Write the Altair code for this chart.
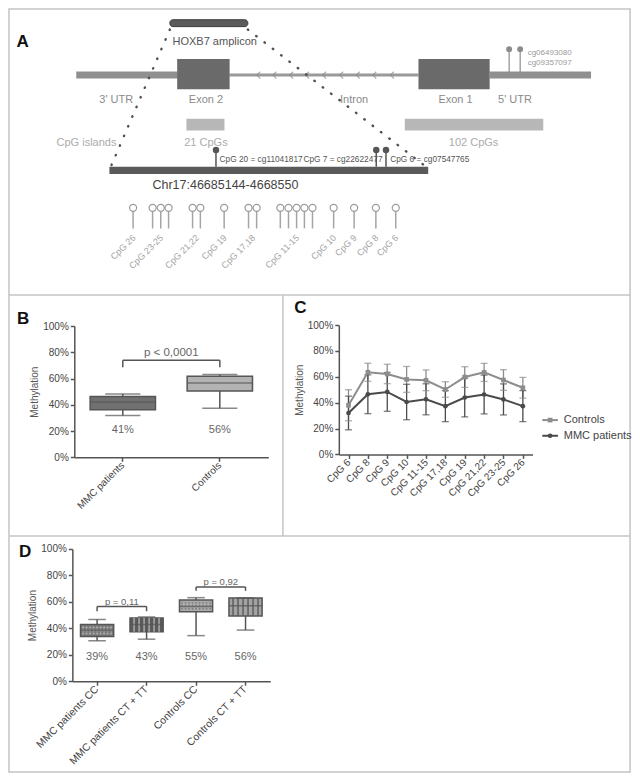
import altair as alt
import pandas as pd

W, H = 624, 766
FONT = "Liberation Sans"
AX = "#555555"


def X(p):
    return p * W / 640.0


def Y(p):
    return p * H / 782.0


# ---------------- Panel A : schematic (figure units) ----------------
gene_seg_x0 = [70, 494]
gene_seg_x1 = [174, 598]
intron_x0 = [227]
intron_x1 = [421]
gene_y = 68.5
chevron_x = [257, 273.5, 290.6, 307, 324.5, 342, 359, 376, 394]
exon_x0 = [173.5, 421]
exon_x1 = [227.3, 494]
exon_top, exon_bottom = 52, 83
feature_labels = ["3' UTR", "Exon 2", "Intron", "Exon 1", "5' UTR"]
feature_x = [111, 203, 355, 459, 520]
feature_label_y = 94
utr_probe_x = [514, 525.3]
utr_probe_names = ["cg06493080", "cg09357097"]
utr_probe_text_y = [46, 56]
island_labels = ["21 CpGs", "102 CpGs"]
island_x0 = [183, 407]
island_x1 = [222, 549]
island_label_x = [203, 477.5]
amplicon_x0, amplicon_x1 = 166, 246
chr_label = "Chr17:46685144-4668550"
chr_x0, chr_x1 = 104, 431
probe_cpg_x = [213.3, 377.7, 387.7]
probe_cpg_text = ["CpG 20 = cg11041817", "CpG 7 = cg22622477", "CpG 6 = cg07547765"]
probe_cpg_text_x = [217, 303, 392]
cpg_site_x = [128.3, 148.3, 156.7, 164.7, 189.3, 197.3, 221.7, 246.7, 255,
              279.3, 287.7, 296, 304, 312.3, 334, 355, 377.3, 397.7]
cpg_group_labels = ["CpG 26", "CpG 23-25", "CpG 21,22", "CpG 19", "CpG 17,18",
                    "CpG 11-15", "CpG 10", "CpG 9", "CpG 8", "CpG 6"]
cpg_group_x = [128.3, 156.7, 193.3, 221.7, 251, 296, 334, 355, 377.3, 397.7]

# ---------------- Panel B ----------------
b_groups = ["MMC patients", "Controls"]
b_min = [31.9, 37.3]
b_q1 = [36.3, 50.5]
b_med = [42.1, 56.7]
b_q3 = [46.3, 61.7]
b_max = [48.3, 63.0]
b_mean_text = ["41%", "56%"]
b_fill = ["#717171", "#b3b3b3"]
b_p_text = "p < 0,0001"

# ---------------- Panel C ----------------
c_sites = ["CpG 6", "CpG 8", "CpG 9", "CpG 10", "CpG 11-15", "CpG 17,18",
           "CpG 19", "CpG 21,22", "CpG 23-25", "CpG 26"]
c_ctrl_mean = [38, 63.5, 62.2, 58, 57.3, 50.2, 59.8, 63.4, 57.5, 51.5]
c_ctrl_sd = [12, 7, 7.5, 10, 8, 6, 8, 7, 8, 8]
c_mmc_mean = [32, 46.5, 48.3, 40.5, 42.6, 37.3, 44, 46.3, 42.5, 37.3]
c_mmc_sd = [13, 15, 15, 13.7, 12, 12, 15, 15, 12, 12]
c_series = ["Controls", "MMC patients"]
c_colors = ["#8d8d8d", "#4a4a4a"]
c_shapes = ["square", "circle"]

# ---------------- Panel D ----------------
d_groups = ["MMC patients CC", "MMC patients CT + TT", "Controls CC", "Controls CT + TT"]
d_min = [30.6, 31.8, 34.5, 38.7]
d_q1 = [33.8, 37.5, 52.6, 49.3]
d_med = [38.5, 43.0, 56.5, 57.0]
d_q3 = [43.0, 47.9, 61.5, 63.0]
d_max = [46.7, 48.6, 63.2, 63.0]
d_mean_text = ["39%", "43%", "55%", "56%"]
d_fill = ["#7b7b7b", "#5a5a5a", "#ababab", "#a3a3a3"]
d_pattern = ["dots", "lines", "dots", "lines"]
d_pattern_color = ["#b4b4b4", "#b0b0b0", "#7e7e7e", "#5a5a5a"]
d_p_text = ["p = 0,11", "p = 0,92"]

# ======================================================================
dxs = alt.Scale(domain=[0, 640], range=[0, W], nice=False, zero=False)
dys = alt.Scale(domain=[0, 782], range=[0, H], nice=False, zero=False)


def dX(f):
    return alt.X(f"{f}:Q", scale=dxs, axis=None)


def dY(f):
    return alt.Y(f"{f}:Q", scale=dys, axis=None)


def texts(df, size, color, align="center", weight="normal", angle=0, baseline="middle"):
    return alt.Chart(df).mark_text(fontSize=size, color=color, align=align, baseline=baseline,
                                   fontWeight=weight, angle=angle, font=FONT).encode(
        x=dX("x"), y=dY("y"), text="t:N")


L = []

# ---- frame ----
L.append(alt.Chart(pd.DataFrame({"x": [1], "x2": [638], "y": [1], "y2": [780]})).mark_rect(
    fillOpacity=0, stroke="#c4c4c4", strokeWidth=1.5).encode(x=dX("x"), x2="x2", y=dY("y"), y2="y2"))
L.append(alt.Chart(pd.DataFrame({"x": [1, 1], "x2": [638, 638], "y": [293, 539]})).mark_rule(
    color="#c4c4c4", strokeWidth=1.5).encode(x=dX("x"), x2="x2", y=dY("y")))
L.append(alt.Chart(pd.DataFrame({"x": [282], "y": [293], "y2": [539]})).mark_rule(
    color="#c4c4c4", strokeWidth=1.5).encode(x=dX("x"), y=dY("y"), y2="y2"))
L.append(texts(pd.DataFrame({"x": [15, 15.5, 300, 17.5], "y": [35, 318, 306, 555],
                             "t": ["A", "B", "C", "D"]}), 17, "#111", weight="bold"))

# ---- Panel A ----
L.append(alt.Chart(pd.DataFrame({"x": gene_seg_x0, "x2": gene_seg_x1, "y": [gene_y] * 2})).mark_rule(
    strokeWidth=7, color="#8f8f8f").encode(x=dX("x"), x2="x2", y=dY("y")))
L.append(alt.Chart(pd.DataFrame({"x": intron_x0, "x2": intron_x1, "y": [gene_y]})).mark_rule(
    strokeWidth=3, color="#9a9a9a").encode(x=dX("x"), x2="x2", y=dY("y")))
L.append(alt.Chart(pd.DataFrame({"x": chevron_x, "y": [gene_y] * len(chevron_x)})).mark_point(
    shape="M0.5,-1L-0.5,0L0.5,1", filled=False, strokeWidth=1.2, color="#8a8a8a", size=45).encode(
    x=dX("x"), y=dY("y")))
L.append(alt.Chart(pd.DataFrame({"x": exon_x0, "x2": exon_x1, "y": [exon_top] * 2, "y2": [exon_bottom] * 2})).mark_rect(
    color="#6a6a6a").encode(x=dX("x"), x2="x2", y=dY("y"), y2="y2"))
L.append(texts(pd.DataFrame({"x": feature_x, "y": [feature_label_y] * 5, "t": feature_labels}), 11, "#8a8a8a"))
# 5' UTR probes
L.append(alt.Chart(pd.DataFrame({"x": utr_probe_x, "y": [42, 42], "y2": [gene_y] * 2})).mark_rule(
    color="#8c8c8c", strokeWidth=1.2).encode(x=dX("x"), y=dY("y"), y2="y2"))
L.append(alt.Chart(pd.DataFrame({"x": utr_probe_x, "y": [42, 42]})).mark_point(
    filled=True, color="#8c8c8c", size=35, opacity=1).encode(x=dX("x"), y=dY("y")))
L.append(texts(pd.DataFrame({"x": [533, 533], "y": utr_probe_text_y, "t": utr_probe_names}), 8, "#9a9a9a", align="left"))
# CpG islands
L.append(texts(pd.DataFrame({"x": [80.5], "y": [138], "t": ["CpG islands"]}), 11, "#ababab"))
L.append(alt.Chart(pd.DataFrame({"x": island_x0, "x2": island_x1, "y": [113, 113], "y2": [125, 125]})).mark_rect(
    color="#b7b7b7").encode(x=dX("x"), x2="x2", y=dY("y"), y2="y2"))
L.append(texts(pd.DataFrame({"x": island_label_x, "y": [138, 138], "t": island_labels}), 11, "#ababab"))
# amplicon
L.append(alt.Chart(pd.DataFrame({"x": [amplicon_x0], "x2": [amplicon_x1], "y": [12], "y2": [19]})).mark_rect(
    color="#5b5b5b", cornerRadius=3, stroke="#3a3a3a", strokeWidth=1).encode(
    x=dX("x"), x2="x2", y=dY("y"), y2="y2"))
L.append(texts(pd.DataFrame({"x": [212], "y": [35], "t": ["HOXB7 amplicon"]}), 11, "#555"))
# dotted projection lines
L.append(alt.Chart(pd.DataFrame({"id": ["l", "l", "r", "r"], "o": [0, 1, 0, 1],
                                 "x": [166, 105, 246, 430], "y": [22, 163, 22, 163]})).mark_line(
    strokeDash=[0.5, 10], strokeCap="round", strokeWidth=2.4, color="#505050").encode(
    x=dX("x"), y=dY("y"), detail="id:N", order="o:Q"))
# chromosome bar
L.append(alt.Chart(pd.DataFrame({"x": [chr_x0], "x2": [chr_x1], "y": [162], "y2": [169.5]})).mark_rect(
    color="#5a5a5a").encode(x=dX("x"), x2="x2", y=dY("y"), y2="y2"))
L.append(texts(pd.DataFrame({"x": [223], "y": [180.5], "t": [chr_label]}), 12.5, "#444"))
L.append(alt.Chart(pd.DataFrame({"x": probe_cpg_x, "y": [145] * 3, "y2": [162] * 3})).mark_rule(
    color="#555", strokeWidth=1.5).encode(x=dX("x"), y=dY("y"), y2="y2"))
L.append(alt.Chart(pd.DataFrame({"x": probe_cpg_x, "y": [145] * 3})).mark_point(
    filled=True, color="#555", size=42, opacity=1).encode(x=dX("x"), y=dY("y")))
L.append(texts(pd.DataFrame({"x": probe_cpg_text_x, "y": [155.5] * 3, "t": probe_cpg_text}), 8.3, "#555", align="left"))
# CpG site lollipops
L.append(alt.Chart(pd.DataFrame({"x": cpg_site_x, "y": [208] * len(cpg_site_x), "y2": [225] * len(cpg_site_x)})).mark_rule(
    color="#a5a5a5", strokeWidth=1.5).encode(x=dX("x"), y=dY("y"), y2="y2"))
L.append(alt.Chart(pd.DataFrame({"x": cpg_site_x, "y": [204] * len(cpg_site_x)})).mark_point(
    filled=True, fill="white", stroke="#9a9a9a", strokeWidth=1.2, size=50, opacity=1).encode(x=dX("x"), y=dY("y")))
L.append(texts(pd.DataFrame({"x": [v + 1 for v in cpg_group_x], "y": [233] * len(cpg_group_x), "t": cpg_group_labels}),
               9, "#a5a5a5", align="right", angle=315))


# ---- common axis helpers ----
def yaxis(x_px):
    return alt.Axis(orient="left", offset=-X(x_px), values=[0, 20, 40, 60, 80, 100],
                    labelExpr="datum.value + '%'", title="Methylation", titleFontSize=10,
                    titleFontWeight="normal", titleColor="#555", titlePadding=3, titleFont=FONT,
                    labelFontSize=10, labelColor="#444", labelFont=FONT, tickSize=4, tickWidth=1.5,
                    tickColor=AX, domainColor=AX, domainWidth=1.5, labelPadding=2, grid=False)


def xaxis(y_px, fs=10):
    return alt.Axis(orient="bottom", offset=Y(y_px) - H, title=None, labelAngle=315,
                    labelAlign="right", labelBaseline="middle", labelFontSize=fs, labelColor="#444",
                    labelFont=FONT, tickSize=4, tickWidth=1.5, tickColor=AX, domainColor=AX,
                    domainWidth=1.5, labelPadding=2, grid=False, labelOverlap=False)


def box_layers(groups, mn, q1, md, q3, mx, fills, mean_text, text_y, xscale, yscale,
               xax, yax, box_w, cap_w, text_size):
    df = pd.DataFrame({"g": groups, "mn": mn, "q1": q1, "md": md, "q3": q3, "mx": mx,
                       "fill": fills, "t": mean_text, "ty": [text_y] * len(groups)})
    out = []
    out.append(alt.Chart(df).mark_rule(color=AX, strokeWidth=1.5).encode(
        x=alt.X("g:N", scale=xscale, axis=xax, sort=groups),
        y=alt.Y("mn:Q", scale=yscale, axis=yax), y2="mx"))
    out.append(alt.Chart(df).mark_bar(size=box_w, stroke=AX, strokeWidth=1.5).encode(
        x=alt.X("g:N", scale=xscale, axis=None, sort=groups),
        y=alt.Y("q1:Q", scale=yscale, axis=None), y2="q3",
        color=alt.Color("fill:N", scale=None)))
    for f in ("mn", "mx"):
        out.append(alt.Chart(df).mark_tick(size=cap_w, thickness=1.5, color=AX).encode(
            x=alt.X("g:N", scale=xscale, axis=None, sort=groups),
            y=alt.Y(f"{f}:Q", scale=yscale, axis=None)))
    out.append(alt.Chart(df).mark_text(fontSize=text_size, color="#666", font=FONT, baseline="middle").encode(
        x=alt.X("g:N", scale=xscale, axis=None, sort=groups),
        y=alt.Y("ty:Q", scale=yscale, axis=None), text="t:N"))
    return df, out


def median_layer(df, groups, xscale, yscale, box_w):
    return alt.Chart(df).mark_tick(size=box_w, thickness=1.5, color=AX).encode(
        x=alt.X("g:N", scale=xscale, axis=None, sort=groups),
        y=alt.Y("md:Q", scale=yscale, axis=None))


def bracket_layers(a, b, y, yend, ty, text, pscale, yscale, fs, half_step):
    df = pd.DataFrame({"a": [a], "b": [b], "y": [y], "ye": [yend], "ty": [ty], "t": [text]})
    out = []
    out.append(alt.Chart(df).mark_rule(color=AX, strokeWidth=1.5).encode(
        x=alt.X("a:N", scale=pscale, axis=None), x2="b",
        y=alt.Y("y:Q", scale=yscale, axis=None)))
    for col in ("a", "b"):
        out.append(alt.Chart(df).mark_rule(color=AX, strokeWidth=1.5).encode(
            x=alt.X(f"{col}:N", scale=pscale, axis=None),
            y=alt.Y("ye:Q", scale=yscale, axis=None), y2="y"))
    out.append(alt.Chart(df).mark_text(fontSize=fs, color="#666", font=FONT, baseline="middle",
                                       xOffset=half_step).encode(
        x=alt.X("a:N", scale=pscale, axis=None),
        y=alt.Y("ty:Q", scale=yscale, axis=None), text="t:N"))
    return out


# ---- Panel B ----
b_range = [X(68), X(267)]
bx = alt.Scale(domain=b_groups, range=b_range, paddingInner=0, paddingOuter=0)
bxp = alt.Scale(type="point", domain=b_groups, range=b_range, padding=0.5)
by = alt.Scale(domain=[0, 100], range=[Y(458.7), Y(324.7)], nice=False, zero=False)
b_df, b_layers = box_layers(b_groups, b_min, b_q1, b_med, b_q3, b_max, b_fill, b_mean_text, 20.5,
                            bx, by, xaxis(458.7), yaxis(68), X(67), X(36), 11)
L += b_layers
L.append(median_layer(b_df, b_groups, bx, by, X(67)))
L += bracket_layers(b_groups[0], b_groups[1], 73.9, 68.7, 79.2, b_p_text, bxp, by, 11.5,
                    (b_range[1] - b_range[0]) / len(b_groups) / 2)

# ---- Panel C ----
cx = alt.Scale(type="point", domain=c_sites, range=[X(339.3), X(538)], padding=0.5)
cy = alt.Scale(domain=[0, 100], range=[Y(455.7), Y(323.7)], nice=False, zero=False)
rows = []
for s, col, shp, means, sds in ((c_series[0], c_colors[0], c_shapes[0], c_ctrl_mean, c_ctrl_sd),
                                (c_series[1], c_colors[1], c_shapes[1], c_mmc_mean, c_mmc_sd)):
    for site, m, sd in zip(c_sites, means, sds):
        rows.append({"site": site, "series": s, "mean": m, "lo": m - sd, "hi": m + sd,
                     "col": col, "shape": shp})
c_df = pd.DataFrame(rows)
L.append(alt.Chart(c_df).mark_rule(strokeWidth=1.3).encode(
    x=alt.X("site:N", scale=cx, axis=xaxis(455.7), sort=c_sites),
    y=alt.Y("lo:Q", scale=cy, axis=yaxis(339.3)), y2="hi",
    color=alt.Color("col:N", scale=None)))
for f in ("lo", "hi"):
    L.append(alt.Chart(c_df).mark_tick(size=7, thickness=1.3).encode(
        x=alt.X("site:N", scale=cx, axis=None, sort=c_sites),
        y=alt.Y(f"{f}:Q", scale=cy, axis=None),
        color=alt.Color("col:N", scale=None)))
L.append(alt.Chart(c_df).mark_line(strokeWidth=2).encode(
    x=alt.X("site:N", scale=cx, axis=None, sort=c_sites),
    y=alt.Y("mean:Q", scale=cy, axis=None),
    color=alt.Color("col:N", scale=None), detail="series:N"))
L.append(alt.Chart(c_df).mark_point(filled=True, size=22, opacity=1).encode(
    x=alt.X("site:N", scale=cx, axis=None, sort=c_sites),
    y=alt.Y("mean:Q", scale=cy, axis=None),
    color=alt.Color("col:N", scale=None), shape=alt.Shape("shape:N", scale=None)))
# legend
leg = pd.DataFrame({"x": [548, 548], "x2": [564, 564], "xm": [556, 556], "xt": [570, 570],
                    "y": [420.7, 436.7], "col": c_colors, "shape": c_shapes, "t": c_series})
L.append(alt.Chart(leg).mark_rule(strokeWidth=2).encode(
    x=dX("x"), x2="x2", y=dY("y"), color=alt.Color("col:N", scale=None)))
L.append(alt.Chart(leg).mark_point(filled=True, size=22, opacity=1).encode(
    x=dX("xm"), y=dY("y"), color=alt.Color("col:N", scale=None), shape=alt.Shape("shape:N", scale=None)))
L.append(alt.Chart(leg).mark_text(fontSize=11, color="#444", align="left", baseline="middle", font=FONT).encode(
    x=dX("xt"), y=dY("y"), text="t:N"))

# ---- Panel D ----
d_range = [X(66), X(269)]
ddx = alt.Scale(domain=d_groups, range=d_range, paddingInner=0, paddingOuter=0)
ddxp = alt.Scale(type="point", domain=d_groups, range=d_range, padding=0.5)
ddy = alt.Scale(domain=[0, 100], range=[Y(687.3), Y(552.3)], nice=False, zero=False)
d_df, d_layers = box_layers(d_groups, d_min, d_q1, d_med, d_q3, d_max, d_fill, d_mean_text, 18.5,
                            ddx, ddy, xaxis(687.3, 10.5), yaxis(66), X(34), X(18), 11)
L += d_layers
# patterns
dot_rows = []
line_rows = []
for g, q1v, q3v, pat, pc in zip(d_groups, d_q1, d_q3, d_pattern, d_pattern_color):
    if pat == "dots":
        for frac in (0.25, 0.5, 0.75):
            dot_rows.append({"g": g, "y": q1v + (q3v - q1v) * frac, "pc": pc})
    else:
        line_rows.append({"g": g, "q1": q1v, "q3": q3v, "pc": pc})
dot_df = pd.DataFrame(dot_rows)
line_df = pd.DataFrame(line_rows)
for off in (-14, -10.5, -7, -3.5, 0, 3.5, 7, 10.5, 14):
    L.append(alt.Chart(dot_df).mark_point(filled=True, size=3.5, opacity=1, xOffset=off).encode(
        x=alt.X("g:N", scale=ddx, axis=None, sort=d_groups),
        y=alt.Y("y:Q", scale=ddy, axis=None), color=alt.Color("pc:N", scale=None)))
for off in (-12.5, -7.5, -2.5, 2.5, 7.5, 12.5):
    L.append(alt.Chart(line_df).mark_rule(strokeWidth=1.4, xOffset=off).encode(
        x=alt.X("g:N", scale=ddx, axis=None, sort=d_groups),
        y=alt.Y("q1:Q", scale=ddy, axis=None), y2="q3", color=alt.Color("pc:N", scale=None)))
L.append(median_layer(d_df, d_groups, ddx, ddy, X(34)))
d_half = (d_range[1] - d_range[0]) / len(d_groups) / 2
L += bracket_layers(d_groups[0], d_groups[1], 56.5, 53.0, 59.8, d_p_text[0], ddxp, ddy, 9.5, d_half)
L += bracket_layers(d_groups[2], d_groups[3], 71.3, 68.4, 75.3, d_p_text[1], ddxp, ddy, 9.5, d_half)

chart = alt.layer(*L).resolve_scale(x="independent", y="independent").properties(
    width=W, height=H, autosize=alt.AutoSizeParams(type="none"), padding=0
).configure(font=FONT).configure_view(stroke=None)

chart.save("out.html", embed_options={"renderer": "svg", "actions": False})
